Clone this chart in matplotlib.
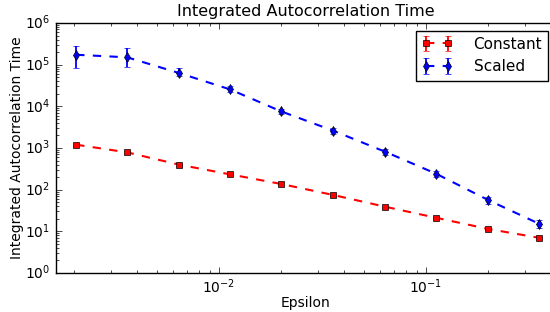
import matplotlib
matplotlib.use("Agg")
import matplotlib.pyplot as plt
from matplotlib.ticker import NullFormatter
import numpy as np

plt.style.use('classic')

epsilon = [0.00204, 0.00360, 0.00641, 0.0113, 0.01995, 0.0356, 0.0634, 0.1117, 0.1995, 0.3516]
constant = [1200, 785, 398, 233, 137, 74.5, 39, 21.2, 11.4, 7.0]
constant_err = [60, 40, 20, 12, 7, 4, 2, 1.1, 0.6, 0.4]
scaled = [173000, 150000, 63000, 25500, 7570, 2600, 815, 242, 56.5, 15.2]
scaled_err_low = [90000, 60000, 11000, 4000, 1100, 400, 120, 40, 10, 3]
scaled_err_high = [100000, 100000, 22000, 5000, 1300, 450, 140, 45, 11, 3.5]
x_major_ticks = [1e-2, 1e-1]

fig = plt.figure(figsize=(5.5, 3.12), dpi=100)
fig.patch.set_facecolor('white')
ax = fig.add_axes([56/550, 39/312, 500/550, 250/312])

ax.errorbar(epsilon, constant, yerr=constant_err, fmt='s--', color='red',
            ecolor='red', mfc='red', mec='black', ms=5, lw=1.5, elinewidth=1.3,
            capsize=2.5, label='Constant')
ax.errorbar(epsilon, scaled, yerr=[scaled_err_low, scaled_err_high], fmt='d--',
            color='blue', ecolor='blue', mfc='blue', mec='black', ms=5, lw=1.5,
            elinewidth=1.3, capsize=2.5, label='Scaled')

ax.set_xscale('log')
ax.set_yscale('log')
ax.set_xticks(x_major_ticks)
ax.set_xlim(0.00163, 0.4245)
ax.set_ylim(1, 1e6)
ax.xaxis.set_minor_formatter(NullFormatter())
ax.yaxis.set_minor_formatter(NullFormatter())
ax.set_title('Integrated Autocorrelation Time', fontsize=11.5)
ax.set_xlabel('Epsilon', fontsize=10, labelpad=0)
ax.set_ylabel('Integrated Autocorrelation Time', fontsize=10, labelpad=1)
ax.tick_params(labelsize=10)
ax.tick_params(axis='x', which='both', pad=3)
ax.legend(loc='upper right', fontsize=11, numpoints=2, handletextpad=1.4)

fig.savefig('out.png', dpi=100, facecolor='white')
